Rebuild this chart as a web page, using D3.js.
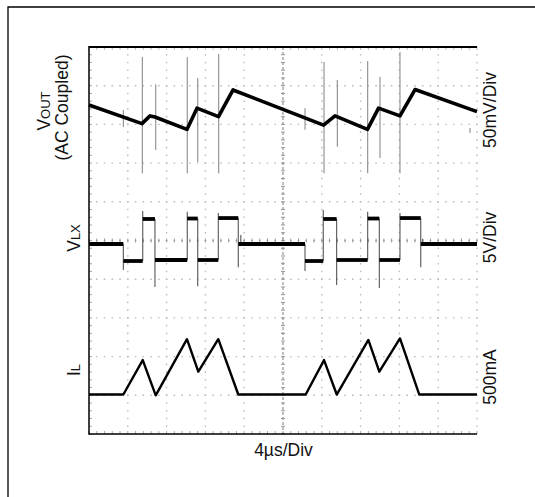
<!DOCTYPE html>
<html><head><meta charset="utf-8">
<script src="https://cdn.jsdelivr.net/npm/d3@7"></script>
<style>
html,body{margin:0;padding:0;background:#fff;}
svg{display:block;font-family:Arial,"Liberation Sans",sans-serif;}
</style></head><body>
<svg id="c" width="535" height="497"></svg>
<script>
// ---- data (time in µs, amplitude in screen divisions, centre = 0) ----
const timeRange = [0, 40];          // 4µs/Div, 10 divisions
const divRange = [-5, 5];           // 10 vertical divisions
const gridTimes = d3.range(4, 40, 4);
const gridDivs = d3.range(-4, 5, 1);

// VOUT (AC coupled) trace vertices
const voutTrace = [
  [0, 3.50], [5.46, 3.02], [6.29, 3.22], [6.80, 3.19], [10.10, 2.87],
  [11.13, 3.42], [13.35, 3.20], [14.85, 3.89], [24.18, 2.98], [25.36, 3.22],
  [28.71, 2.87], [29.85, 3.42], [32.06, 3.22], [33.61, 3.90], [40, 3.33]
];
// VOUT switching spikes: [time, top, bottom]
const voutSpikes = [
  [3.54, 3.37, 2.93], [5.50, 4.74, 1.74], [6.88, 4.04, 2.34], [10.13, 4.74, 1.74],
  [11.21, 4.20, 2.03], [13.37, 4.82, 1.74], [22.27, 3.42, 2.86], [24.23, 4.61, 1.74],
  [25.60, 4.15, 2.42], [28.73, 4.64, 1.74], [30.00, 4.23, 2.13], [32.06, 4.87, 1.74],
  [39.28, 2.91, 2.78]
];

// VLX flat levels: [start, end, level]
const vlxLevels = [
  [0, 3.54, -0.09], [3.54, 5.54, -0.53], [5.54, 6.80, 0.556], [6.80, 10.13, -0.504],
  [10.13, 11.21, 0.568], [11.21, 13.33, -0.504], [13.33, 15.39, 0.58], [15.39, 22.27, -0.09],
  [22.27, 24.15, -0.53], [24.15, 25.53, 0.556], [25.53, 28.73, -0.504], [28.73, 29.93, 0.568],
  [29.93, 32.06, -0.504], [32.06, 34.20, 0.58], [34.20, 40, -0.09]
];
// VLX edges incl. overshoot: [time, low, high]
const vlxEdges = [
  [3.54, -0.76, -0.09], [5.54, -0.53, 0.76], [6.80, -1.20, 0.556], [10.13, -0.504, 0.74],
  [11.21, -1.18, 0.568], [13.33, -0.504, 0.71], [15.39, -0.69, 0.58], [15.65, -0.09, 0.14],
  [22.27, -0.79, -0.09], [24.15, -0.53, 0.79], [25.53, -1.15, 0.556], [28.73, -0.504, 0.74],
  [29.93, -1.23, 0.568], [32.06, -0.504, 0.71], [34.20, -0.69, 0.58], [34.40, -0.09, 0.04]
];

// IL inductor current trace vertices
const ilTrace = [
  [0, -3.98], [3.54, -3.98], [5.54, -3.09], [6.88, -4.00], [10.10, -2.55],
  [11.27, -3.39], [13.33, -2.55], [15.39, -3.98], [22.34, -3.98], [24.23, -3.09],
  [25.54, -3.98], [28.80, -2.57], [29.93, -3.39], [32.06, -2.53], [34.05, -3.98], [40, -3.98]
];

const leftLabels = [
  {parts: [["V", 17.5], ["OUT", 13]], x: 50, y: 111},
  {parts: [["(AC Coupled)", 17.5]], x: 68, y: 107.5},
  {parts: [["V", 17.5], ["LX", 13]], x: 80, y: 238},
  {parts: [["I", 17.5], ["L", 13]], x: 80, y: 370}
];
const rightLabels = [["50mV/Div", 110], ["5V/Div", 237.5], ["500mA", 377]];
const xLabel = "4µs/Div";

// ---- drawing ----
const svg = d3.select("#c");
const x = d3.scaleLinear().domain(timeRange).range([89, 477]);
const y = d3.scaleLinear().domain(divRange).range([434, 47]);

// outer frame (left + top only)
svg.append("path").attr("d", "M8,497V7H535").attr("fill", "none")
  .attr("stroke", "#000").attr("stroke-width", 1.3);

const grid = svg.append("g");
// dotted grid lines
grid.selectAll(".gv").data(gridTimes.filter(t => t !== 20).concat([40])).join("line")
  .attr("x1", d => x(d)).attr("x2", d => x(d)).attr("y1", y(5)).attr("y2", y(-5))
  .attr("stroke", "#bdbdbd").attr("stroke-width", 1.4).attr("stroke-dasharray", "1.6,6.14")
  .attr("stroke-dashoffset", 0.8);
grid.selectAll(".gh").data(gridDivs.filter(v => v !== 0)).join("line")
  .attr("x1", x(0)).attr("x2", x(40)).attr("y1", d => y(d)).attr("y2", d => y(d))
  .attr("stroke", "#bdbdbd").attr("stroke-width", 1.4).attr("stroke-dasharray", "1.6,6.16")
  .attr("stroke-dashoffset", 0.8);
// centre lines
grid.append("line").attr("x1", x(20)).attr("x2", x(20)).attr("y1", y(5)).attr("y2", y(-5))
  .attr("stroke", "#8a8a8a").attr("stroke-width", 1.1).attr("stroke-dasharray", "3,2");
grid.append("line").attr("x1", x(0)).attr("x2", x(40)).attr("y1", y(0)).attr("y2", y(0))
  .attr("stroke", "#9a9a9a").attr("stroke-width", 1.2).attr("stroke-dasharray", "1.6,6.16")
  .attr("stroke-dashoffset", 0.8);
const minorT = d3.range(0, 40.01, 0.8);
const minorV = d3.range(-5, 5.01, 0.2);
grid.selectAll(".mt").data(minorT).join("line")
  .attr("x1", d => x(d)).attr("x2", d => x(d)).attr("y1", y(0) - 2).attr("y2", y(0) + 2)
  .attr("stroke", "#999").attr("stroke-width", 1);
grid.selectAll(".mv").data(minorV).join("line")
  .attr("x1", x(20) - 2).attr("x2", x(20) + 2).attr("y1", d => y(d)).attr("y2", d => y(d))
  .attr("stroke", "#999").attr("stroke-width", 1);
// border ticks
grid.selectAll(".bt").data(minorT).join("line")
  .attr("x1", d => x(d)).attr("x2", d => x(d)).attr("y1", y(-5)).attr("y2", y(-5) - 3)
  .attr("stroke", "#aaa").attr("stroke-width", 1);
grid.selectAll(".tt").data(minorT).join("line")
  .attr("x1", d => x(d)).attr("x2", d => x(d)).attr("y1", y(5)).attr("y2", y(5) + 3)
  .attr("stroke", "#bbb").attr("stroke-width", 1);
grid.selectAll(".lt").data(minorV).join("line")
  .attr("x1", x(0)).attr("x2", x(0) + 3).attr("y1", d => y(d)).attr("y2", d => y(d))
  .attr("stroke", "#aaa").attr("stroke-width", 1);

// borders
svg.append("line").attr("x1", x(0)).attr("x2", x(40)).attr("y1", y(5)).attr("y2", y(5))
  .attr("stroke", "#000").attr("stroke-width", 2);
svg.append("line").attr("x1", x(0)).attr("x2", x(40)).attr("y1", y(-5)).attr("y2", y(-5))
  .attr("stroke", "#000").attr("stroke-width", 1.5);
svg.append("line").attr("x1", x(0)).attr("x2", x(0)).attr("y1", y(5) - 1).attr("y2", y(-5) + 0.75)
  .attr("stroke", "#000").attr("stroke-width", 1.5);

const line = d3.line().x(d => x(d[0])).y(d => y(d[1]));

// VOUT spikes & trace
svg.selectAll(".vs").data(voutSpikes).join("line")
  .attr("x1", d => x(d[0])).attr("x2", d => x(d[0])).attr("y1", d => y(d[1])).attr("y2", d => y(d[2]))
  .attr("stroke", "#8c8c8c").attr("stroke-width", 1.1);
svg.append("path").datum(voutTrace).attr("d", line).attr("fill", "none")
  .attr("stroke", "#000").attr("stroke-width", 3.6).attr("stroke-linejoin", "round");

// VLX
svg.selectAll(".ve").data(vlxEdges).join("line")
  .attr("x1", d => x(d[0])).attr("x2", d => x(d[0])).attr("y1", d => y(d[1])).attr("y2", d => y(d[2]))
  .attr("stroke", "#555").attr("stroke-width", 1.1);
svg.selectAll(".vl").data(vlxLevels).join("line")
  .attr("x1", d => x(d[0])).attr("x2", d => x(d[1])).attr("y1", d => y(d[2])).attr("y2", d => y(d[2]))
  .attr("stroke", "#000").attr("stroke-width", 3.8);

// IL
svg.append("path").datum(ilTrace).attr("d", line).attr("fill", "none")
  .attr("stroke", "#000").attr("stroke-width", 2.4).attr("stroke-linejoin", "round");

// labels
leftLabels.forEach(l => {
  const t = svg.append("text").attr("transform", `translate(${l.x},${l.y}) rotate(-90)`)
    .attr("text-anchor", "middle").attr("fill", "#111");
  l.parts.forEach(p => t.append("tspan").attr("font-size", p[1]).text(p[0]));
});
rightLabels.forEach(r => {
  svg.append("text").attr("transform", `translate(496,${r[1]}) rotate(-90)`)
    .attr("text-anchor", "middle").attr("font-size", 17.5).attr("fill", "#111").text(r[0]);
});
svg.append("text").attr("x", 283.5).attr("y", 456).attr("text-anchor", "middle")
  .attr("font-size", 17.5).attr("fill", "#111").text(xLabel);
</script>
</body></html>
